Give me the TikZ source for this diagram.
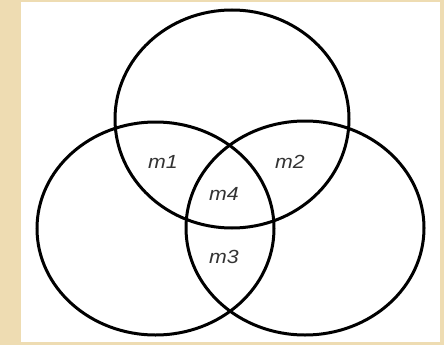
\documentclass[tikz,border=0pt]{standalone}
\usepackage{fontspec}
\setmainfont{Liberation Sans}
\begin{document}
\begin{tikzpicture}[x=1pt,y=-1pt,
  ring/.style={draw=black,line width=3pt},
  lbl/.style={font=\fontsize{19}{19}\selectfont\itshape,text=black!80,inner sep=0pt,xscale=1.12}]
\useasboundingbox (0,0) rectangle (444,345);
\fill[color={rgb,255:red,238;green,220;blue,178}] (0,0) rectangle (444,345);
\fill[white] (20.5,2) rectangle (440,342);
\draw[ring] (232,119) ellipse [x radius=117, y radius=109];
\draw[ring] (155.5,228.5) ellipse [x radius=118.5, y radius=106.5];
\draw[ring] (305,228) ellipse [x radius=119, y radius=107];
\node[lbl] (m1) at (163,162) {m1};
\node[lbl] (m2) at (290,162) {m2};
\node[lbl] (m4) at (224,194) {m4};
\node[lbl] (m3) at (224,257) {m3};
\end{tikzpicture}
\end{document}
